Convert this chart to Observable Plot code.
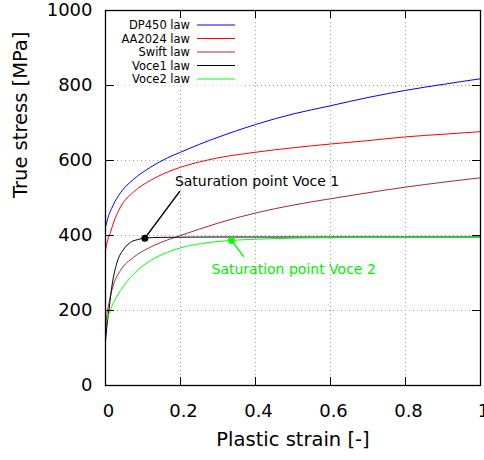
<!DOCTYPE html>
<html><head><meta charset="utf-8">
<script src="https://cdn.jsdelivr.net/npm/d3@7"></script>
<script src="https://cdn.jsdelivr.net/npm/@observablehq/plot@0.6"></script>
<style>html,body{margin:0;padding:0;background:#fff} svg{display:block}</style>
</head><body><div id="chart"></div>
<script>
// ---- data ----
const seriesNames = ["DP450 law", "AA2024 law", "Swift law", "Voce1 law", "Voce2 law"];
const seriesColors = ["#0000ff", "#ff0000", "#a52a2a", "#000000", "#00ff00"];

const strainDP450 = [0, 0.005, 0.02, 0.04, 0.075, 0.12, 0.165, 0.2, 0.25, 0.3, 0.4, 0.5, 0.6, 0.7, 0.8, 0.9, 1.0];
const stressDP450 = [422, 442, 480, 514, 550, 582, 607, 622, 643, 662, 696, 724, 746, 768, 787, 803, 818];

const strainAA2024 = [0, 0.005, 0.012, 0.022, 0.04, 0.075, 0.12, 0.165, 0.2, 0.25, 0.3, 0.4, 0.5, 0.6, 0.7, 0.8, 0.9, 1.0];
const stressAA2024 = [360, 385, 405, 436, 476, 516, 547, 569, 582, 596, 607, 622, 634, 644, 653, 663, 670, 677];

const strainSwift = [0, 0.003, 0.009, 0.022, 0.04, 0.075, 0.12, 0.165, 0.2, 0.25, 0.3, 0.4, 0.5, 0.6, 0.7, 0.8, 0.9, 1.0];
const stressSwift = [128, 180, 218, 271, 307, 342, 369, 388, 400, 417, 433, 460, 481, 498, 514, 529, 542, 554];

const strainVoce1 = [0, 0.004, 0.009, 0.018, 0.031, 0.049, 0.067, 0.085, 0.105, 0.15, 0.3, 0.6, 1.0];
const stressVoce1 = [118, 160, 200, 271, 329, 364, 382, 389, 393, 395, 396, 396, 396];

const strainVoce2 = [0, 0.01, 0.022, 0.04, 0.0756, 0.12, 0.165, 0.2, 0.253, 0.336, 0.4, 0.5, 0.6, 0.8, 1.0];
const stressVoce2 = [164, 194, 222, 253, 298, 333, 355, 367, 378, 387, 390, 393, 394, 395, 395];

const satStrain = [0.105, 0.336];
const satStress = [393, 387];
const satLabels = ["Saturation point Voce 1", "Saturation point Voce 2"];

const xTicks = [0, 0.2, 0.4, 0.6, 0.8, 1];
const yTicks = [0, 200, 400, 600, 800, 1000];
const xGrid = [0.2, 0.4, 0.6, 0.8];
const yGrid = [200, 400, 600, 800];
const xLabel = "Plastic strain [-]";
const yLabel = "True stress [MPa]";

// ---- build tables ----
const strainArrays = [strainDP450, strainAA2024, strainSwift, strainVoce1, strainVoce2];
const stressArrays = [stressDP450, stressAA2024, stressSwift, stressVoce1, stressVoce2];
const curves = seriesNames.map((name, i) => ({
  name, color: seriesColors[i],
  pts: strainArrays[i].map((s, j) => ({strain: s, stress: stressArrays[i][j]}))
}));
const sat = satStrain.map((s, i) => ({strain: s, stress: satStress[i], label: satLabels[i]}));

const lineShape = {draw(context, l) { context.moveTo(0, 0); context.lineTo(0, -l); }};
const FONT = "DejaVu Sans, sans-serif";

// legend drawn as a render-function mark
function legendMark(index, scales, values, dims) {
  const g = d3.create("svg:g").attr("font-family", FONT).attr("font-size", 11.5);
  const x0 = dims.marginLeft, y0 = dims.marginTop;
  g.append("rect").attr("x", x0 + 0.5).attr("y", y0 + 0.5).attr("width", 137).attr("height", 75).attr("fill", "white");
  seriesNames.forEach((n, i) => {
    const y = y0 + 15 + i * 13.5;
    g.append("text").attr("x", x0 + 85).attr("y", y).attr("dy", "0.35em").attr("text-anchor", "end").attr("fill", "black").text(n);
    g.append("line").attr("x1", x0 + 92).attr("x2", x0 + 130).attr("y1", y).attr("y2", y)
      .attr("stroke", seriesColors[i]).attr("stroke-width", 1);
  });
  return g.node();
}

const marks = [
  Plot.ruleX(xGrid, {x: d => d, stroke: "#a0a0a0", strokeDasharray: "1,3", strokeWidth: 1}),
  Plot.ruleY(yGrid, {y: d => d, stroke: "#a0a0a0", strokeDasharray: "1,3", strokeWidth: 1}),
  legendMark,
  ...curves.map(c => Plot.line(c.pts, {x: "strain", y: "stress", stroke: c.color, strokeWidth: 1, curve: "monotone-x"})),
  Plot.vector([sat[0]], {x: "strain", y: "stress", length: 58, rotate: 36.7, anchor: "start", shape: lineShape, stroke: "black", strokeWidth: 1.5}),
  Plot.vector([sat[1]], {x: "strain", y: "stress", length: 20, rotate: 143, anchor: "start", shape: lineShape, stroke: "#00ff00", strokeWidth: 1.5}),
  Plot.dot([sat[0]], {x: "strain", y: "stress", r: 3.5, fill: "black", stroke: "none"}),
  Plot.dot([sat[1]], {x: "strain", y: "stress", r: 3.5, fill: "#00ff00", stroke: "none"}),
  Plot.text([sat[0]], {x: "strain", y: "stress", text: "label", dx: 30, dy: -57, textAnchor: "start", fontSize: 14, fill: "black"}),
  Plot.text([sat[1]], {x: "strain", y: "stress", text: "label", dx: -20, dy: 29, textAnchor: "start", fontSize: 14, fill: "#00ee00"}),
  Plot.frame({stroke: "black", strokeWidth: 1.3}),
  Plot.tickX(xTicks, {x: d => d, insetTop: 367, stroke: "black", strokeWidth: 1}),
  Plot.tickX(xTicks, {x: d => d, insetBottom: 367, stroke: "black", strokeWidth: 1}),
  Plot.tickY(yTicks, {y: d => d, insetRight: 366, stroke: "black", strokeWidth: 1}),
  Plot.tickY(yTicks, {y: d => d, insetLeft: 367, stroke: "black", strokeWidth: 1}),
  Plot.axisX(xTicks, {tickSize: 0, tickPadding: 19, dx: 3, tickFormat: d => String(d), label: null, fontSize: 18}),
  Plot.axisY(yTicks, {tickSize: 0, tickPadding: 13, tickFormat: d => String(d), label: null, fontSize: 18}),
  Plot.text([xLabel], {text: d => d, frameAnchor: "bottom", dy: 60, fontSize: 19.5, fill: "black"}),
  Plot.text([yLabel], {text: d => d, frameAnchor: "left", dx: -85, rotate: -90, fontSize: 19.5, fill: "black"})
];

const chart = Plot.plot({
  width: 484, height: 460,
  marginLeft: 105, marginRight: 4, marginTop: 10, marginBottom: 75,
  x: {domain: [0, 1]},
  y: {domain: [0, 1000]},
  style: {fontFamily: FONT, fontSize: "18px", background: "white", color: "black"},
  marks
});
document.getElementById("chart").appendChild(chart);
</script>
</body></html>
